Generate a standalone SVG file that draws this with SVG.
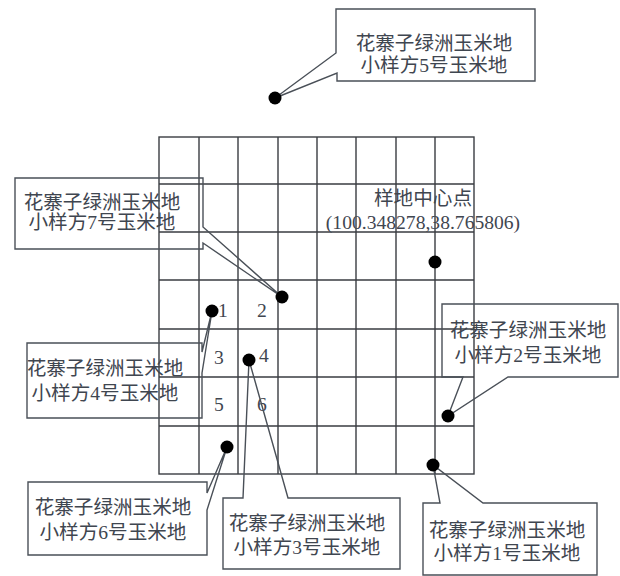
<svg xmlns="http://www.w3.org/2000/svg" width="620" height="576" viewBox="0 0 620 576">
<style>
.g{stroke:#3a3d42;stroke-width:1.4;fill:none}
.c{stroke:#4a5058;stroke-width:1.4;fill:none;stroke-linejoin:miter}
.t{font-family:"Liberation Serif","Noto Sans CJK SC",serif;font-size:19.6px;fill:#3f4650;text-anchor:middle}
.d{fill:#000}
</style>
<rect width="620" height="576" fill="#fff"/>
<g id="grid" class="g">
<rect x="159" y="137" width="315" height="337"/>
<path d="M199,137V474M238,137V474M278,137V474M317,137V474M356,137V474M396,137V474M435,137V474"/>
<path d="M159,184H474M159,232H474M159,280H474M159,329H474M159,377H474M159,426H474"/>
</g>
<g id="cells" class="t">
<text x="223" y="317">1</text>
<text x="262" y="317">2</text>
<text x="219" y="364">3</text>
<text x="264" y="362">4</text>
<text x="219" y="411">5</text>
<text x="262" y="411">6</text>
</g>
<g id="center">
<text class="t" x="423" y="205">样地中心点</text>
<text class="t" x="423" y="229">(100.348278,38.765806)</text>
<circle class="d" cx="435" cy="262" r="6.5"/>
</g>
<g id="connectors">
<polygon id="ptr5" class="c" points="336,9 535,9 535,81 337,81 337,73 275,98 336,53"/>
<polygon id="ptr7" class="c" points="15,178 203,178 203,227 282,297 203,243 203,249 15,249"/>
<polygon id="ptr4" class="c" points="27,343 202,343 202,352 212,311 202,373 202,418 27,418"/>
<polygon id="ptr6" class="c" points="28,482 207,482 207,493 227,447 207,510 207,555 28,555"/>
<polygon id="ptr3" class="c" points="223,498 243,498 249,360 288,498 400,498 400,569 223,569"/>
<polygon id="ptr1" class="c" points="423,503 440,503 433,465 483,503 597,503 597,575 423,575"/>
<polygon id="ptr2" class="c" points="442,304 618,304 618,377 508,377 448,416 463,377 442,377"/>
</g>
<g id="plot5">
<circle class="d" cx="275" cy="98" r="6.5"/>
<text class="t" x="434" y="50">花寨子绿洲玉米地</text>
<text class="t" x="434" y="72">小样方5号玉米地</text>
</g>
<g id="plot7">
<circle class="d" cx="282" cy="297" r="6.5"/>
<text class="t" x="102" y="209">花寨子绿洲玉米地</text>
<text class="t" x="102" y="229">小样方7号玉米地</text>
</g>
<g id="plot4">
<circle class="d" cx="212" cy="311" r="6.5"/>
<text class="t" x="105" y="375">花寨子绿洲玉米地</text>
<text class="t" x="105" y="400">小样方4号玉米地</text>
</g>
<g id="plot3">
<circle class="d" cx="249" cy="360" r="6.5"/>
<text class="t" x="307" y="530">花寨子绿洲玉米地</text>
<text class="t" x="307" y="554">小样方3号玉米地</text>
</g>
<g id="plot6">
<circle class="d" cx="227" cy="447" r="6.5"/>
<text class="t" x="113" y="514">花寨子绿洲玉米地</text>
<text class="t" x="113" y="539">小样方6号玉米地</text>
</g>
<g id="plot2">
<circle class="d" cx="448" cy="416" r="6.5"/>
<text class="t" x="528" y="337">花寨子绿洲玉米地</text>
<text class="t" x="528" y="362">小样方2号玉米地</text>
</g>
<g id="plot1">
<circle class="d" cx="433" cy="465" r="6.5"/>
<text class="t" x="507" y="537">花寨子绿洲玉米地</text>
<text class="t" x="507" y="560">小样方1号玉米地</text>
</g>
</svg>
